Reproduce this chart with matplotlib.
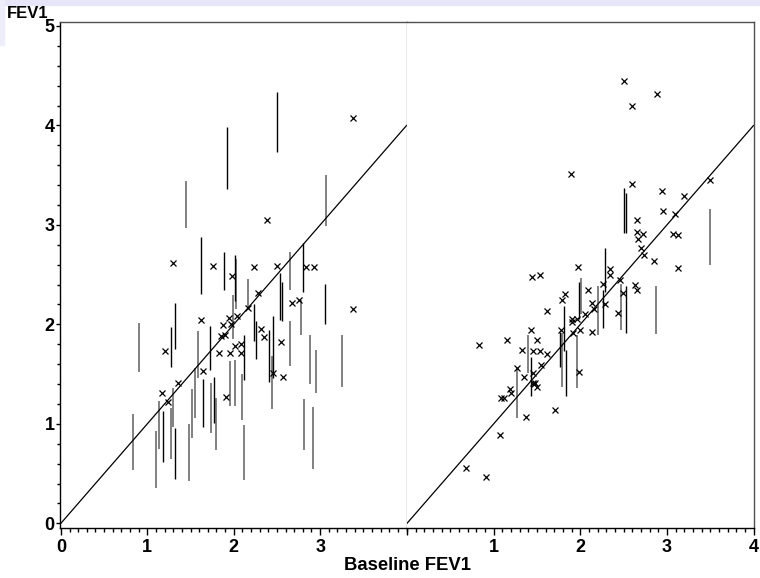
import matplotlib.pyplot as plt
import numpy as np
from matplotlib.ticker import MultipleLocator
from matplotlib.patches import Rectangle

plt.rcParams['font.family'] = ['Liberation Sans', 'DejaVu Sans']
plt.rcParams['font.weight'] = 'bold'

# left panel: vertical ranges (x, low, high), two groups
left_seg_a = [(2.50, 3.73, 4.34), (1.925, 3.36, 3.98), (1.62, 2.31, 2.88), (1.89, 2.35, 2.73),
              (2.01, 2.24, 2.70), (2.80, 2.33, 2.82), (1.315, 1.75, 2.21), (1.28, 1.57, 1.97),
              (1.73, 1.54, 1.98), (1.65, 0.97, 1.45), (2.23, 1.83, 2.20), (2.12, 1.44, 1.89),
              (1.77, 1.01, 1.47), (2.26, 1.65, 2.03), (2.41, 1.42, 1.94), (2.46, 1.46, 2.08),
              (1.185, 0.62, 1.13), (1.32, 0.45, 0.96), (3.06, 2.00, 2.41), (2.53, 2.04, 2.52),
              (2.56, 2.03, 2.43)]
left_seg_b = [(1.45, 2.97, 3.44), (3.07, 2.99, 3.50), (2.03, 2.15, 2.66), (2.16, 2.17, 2.46),
              (2.65, 2.35, 2.73), (1.99, 1.85, 2.30), (0.90, 1.52, 2.01), (1.59, 1.46, 1.93),
              (1.55, 1.06, 1.56), (1.52, 0.86, 1.35), (1.485, 0.43, 1.00), (1.96, 1.18, 1.63),
              (2.02, 1.18, 1.64), (2.10, 1.04, 1.50), (2.12, 0.44, 0.99), (1.74, 0.91, 1.41),
              (1.80, 0.74, 1.26), (2.44, 1.15, 1.68), (2.65, 1.58, 2.03), (2.885, 1.40, 1.89),
              (2.95, 1.31, 1.74), (3.25, 1.37, 1.89), (2.81, 0.74, 1.25), (2.92, 0.55, 1.17),
              (0.84, 0.54, 1.10), (1.14, 0.75, 1.23), (1.095, 0.36, 0.93), (1.27, 0.65, 1.16),
              (1.30, 0.97, 1.36), (2.78, 1.89, 2.25)]
left_pts_x = [3.38, 2.39, 1.30, 1.76, 1.975, 2.24, 2.50, 2.84, 2.93, 2.28, 2.68, 2.76, 3.38,
              2.17, 2.04, 1.94, 1.88, 1.97, 1.85, 1.90, 1.62, 1.21, 1.64, 1.83, 1.96, 2.01,
              2.08, 2.09, 1.91, 2.32, 2.35, 2.46, 2.565, 2.55, 1.17, 1.235, 1.36]
left_pts_y = [4.07, 3.05, 2.62, 2.59, 2.49, 2.58, 2.59, 2.58, 2.58, 2.32, 2.21, 2.25, 2.15,
              2.16, 2.08, 2.06, 1.99, 2.00, 1.88, 1.89, 2.04, 1.73, 1.535, 1.71, 1.71, 1.78,
              1.80, 1.71, 1.27, 1.95, 1.87, 1.515, 1.475, 1.82, 1.31, 1.22, 1.41]

# right panel
right_seg_a = [(2.51, 2.92, 3.37), (2.53, 2.92, 3.32), (2.29, 2.33, 2.77), (1.98, 2.05, 2.43),
               (2.26, 1.96, 2.35), (2.53, 1.91, 2.39), (1.815, 1.73, 2.18), (1.77, 1.575, 1.92),
               (1.84, 1.28, 1.74), (1.43, 1.28, 1.67)]
right_seg_b = [(3.50, 2.60, 3.16), (2.01, 2.10, 2.47), (2.205, 1.89, 2.39), (2.47, 1.94, 2.41),
               (2.87, 1.90, 2.39), (1.79, 1.375, 1.91), (1.96, 1.36, 1.89), (1.40, 1.51, 1.89),
               (1.27, 1.06, 1.56)]
right_pts_x = [2.50, 2.89, 2.60, 1.89, 2.595, 3.50, 2.94, 3.20, 2.96, 3.09, 2.66, 2.65, 2.72,
               2.67, 3.075, 3.13, 2.70, 2.74, 2.85, 1.97, 2.34, 3.13, 1.44, 1.535, 2.34, 2.26,
               2.46, 2.09, 2.49, 2.63, 2.66, 1.82, 1.785, 2.14, 2.29, 2.16, 2.43, 1.62, 2.05,
               1.91, 1.96, 1.91, 2.00, 1.92, 2.13, 1.775, 1.98, 1.43, 0.83, 1.15, 1.505, 1.33,
               1.46, 1.54, 1.62, 1.545, 1.27, 1.46, 1.355, 1.45, 1.48, 1.50, 1.465, 1.19, 1.20,
               1.09, 1.12, 1.37, 1.71, 1.07, 0.685, 0.915]
right_pts_y = [4.45, 4.32, 4.20, 3.51, 3.41, 3.45, 3.34, 3.29, 3.14, 3.11, 3.05, 2.93, 2.91,
               2.86, 2.91, 2.90, 2.77, 2.70, 2.64, 2.58, 2.555, 2.565, 2.48, 2.50, 2.50, 2.41,
               2.45, 2.35, 2.32, 2.40, 2.35, 2.31, 2.25, 2.21, 2.20, 2.15, 2.11, 2.13, 2.10,
               2.055, 2.055, 2.02, 1.945, 1.91, 1.92, 1.945, 1.525, 1.945, 1.79, 1.84, 1.84, 1.74,
               1.73, 1.73, 1.70, 1.59, 1.56, 1.515, 1.475, 1.415, 1.415, 1.375, 1.40, 1.35, 1.31,
               1.26, 1.26, 1.07, 1.14, 0.89, 0.56, 0.47]

fig = plt.figure(figsize=(7.6, 5.78), dpi=100)
fig.patches.append(Rectangle((0, 1 - 5 / 578), 1, 5 / 578, transform=fig.transFigure,
                             color='#e6e6f8', zorder=0))
fig.patches.append(Rectangle((0, 1 - 45 / 578), 4 / 760, 45 / 578, transform=fig.transFigure,
                             color='#eeeefa', zorder=0))

ax1 = fig.add_axes([60 / 760, 50 / 578, 347 / 760, 506 / 578])
ax2 = fig.add_axes([407 / 760, 50 / 578, 347 / 760, 506 / 578])

panels = [(ax1, left_seg_a, left_seg_b, left_pts_x, left_pts_y),
          (ax2, right_seg_a, right_seg_b, right_pts_x, right_pts_y)]
for ax, sa, sb, px, py in panels:
    for segs, col, lw in [(sb, '#777777', 1.3), (sa, 'black', 1.0)]:
        s = np.array(segs)
        ax.vlines(s[:, 0], s[:, 1], s[:, 2], colors=col, linewidth=lw)
    ax.plot(px, py, 'x', color='black', markersize=4, markeredgewidth=0.9)
    ax.plot([0, 4], [0, 4], color='black', linewidth=0.9)
    ax.set_ylim(-0.047, 5.04)
    ax.xaxis.set_minor_locator(MultipleLocator(0.1))
    ax.tick_params(axis='x', which='major', length=5, width=1, pad=3)
    ax.tick_params(axis='x', which='minor', length=3, width=1)
    for sp in ax.spines.values():
        sp.set_color('#505050')
        sp.set_linewidth(1)
    ax.spines['bottom'].set_color('black')

ax1.set_xlim(-0.01, 4.005)
ax1.set_xticks([0, 1, 2, 3])
ax1.set_xticklabels(['0', '1', '2', '3'], fontsize=13, fontweight='bold')
ax1.set_yticks([0, 1, 2, 3, 4, 5])
ax1.set_yticklabels(['0', '1', '2', '3', '4', '5'], fontsize=13, fontweight='bold')
ax1.yaxis.set_minor_locator(MultipleLocator(0.2))
ax1.tick_params(axis='y', which='major', length=3, width=1, pad=1)
ax1.tick_params(axis='y', which='minor', length=2, width=1)
ax1.spines['left'].set_color('black')
ax1.spines['right'].set_color('#909090')

ax2.set_xlim(0, 4.005)
ax2.set_xticks([0, 1, 2, 3, 4])
ax2.set_xticklabels(['', '1', '2', '3', '4'], fontsize=13, fontweight='bold')
ax2.set_yticks([])
ax2.spines['left'].set_visible(False)

fig.text(7 / 760, 1 - 13 / 578, 'FEV1', fontsize=12, fontweight='bold', va='center', ha='left')
fig.text(407 / 760, 1 - 565 / 578, 'Baseline FEV1', fontsize=13.3, fontweight='bold',
         va='center', ha='center')

fig.savefig('out.png', dpi=100)
